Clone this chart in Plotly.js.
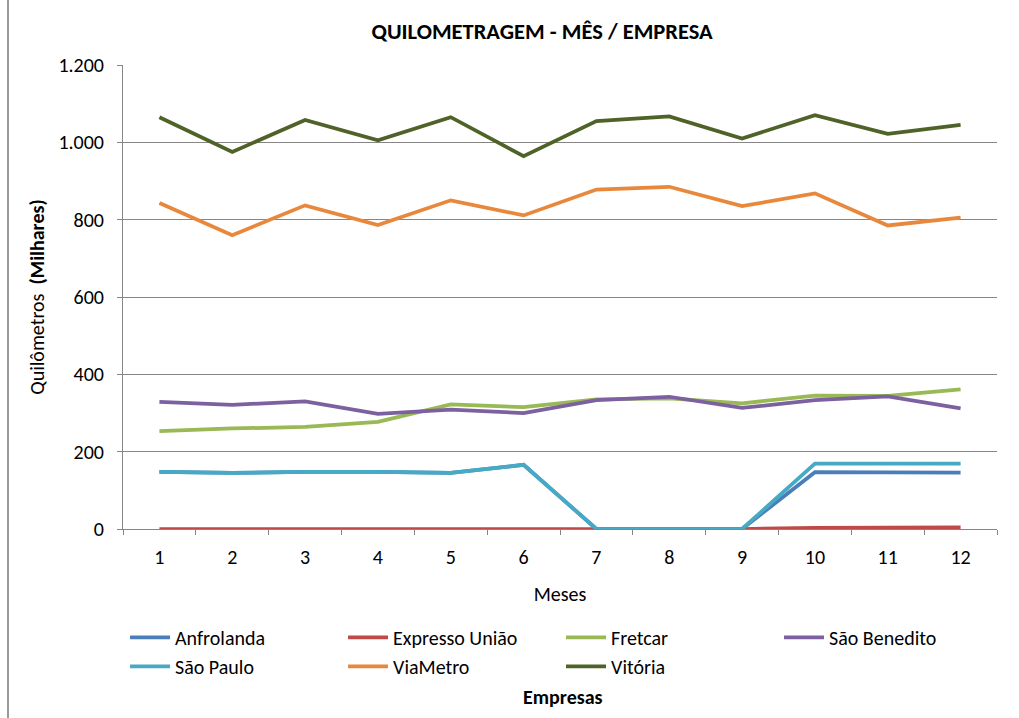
<!DOCTYPE html>
<html>
<head>
<meta charset="utf-8">
<script src="https://cdn.plot.ly/plotly-3.0.1.min.js"></script>
<style>html,body{margin:0;padding:0;background:#fff;}#chart{width:1019px;height:718px;}</style>
</head>
<body>
<div id="chart"></div>
<script>
const months = ["1","2","3","4","5","6","7","8","9","10","11","12"];
const seriesNames = ["Anfrolanda","Expresso União","Fretcar","São Benedito","São Paulo","ViaMetro","Vitória"];
const anfrolanda    = [148,145,148,148,145,166,0,0,0,147,146,146];
const expressoUniao = [0,0,0,0,0,0,0,0,0,3,4,4];
const fretcar       = [253,260,264,277,322,315,335,338,325,345,344,361];
const saoBenedito   = [329,321,330,298,309,300,333,342,313,333,343,312];
const saoPaulo      = [148,145,148,148,145,166,0,0,0,169,169,169];
const viaMetro      = [843,760,837,786,850,811,878,885,835,868,785,805];
const vitoria       = [1065,975,1058,1005,1065,964,1055,1067,1010,1070,1022,1045];
const allValues = [anfrolanda, expressoUniao, fretcar, saoBenedito, saoPaulo, viaMetro, vitoria];
const colors = ["#4A7EBB","#BE4B48","#98B954","#7D60A0","#46AAC5","#E8883C","#4F6228"];

const FONT = "Carlito, Calibri, Lato, 'Open Sans', sans-serif";

const traces = seriesNames.map((n, i) => ({
  type: "scatter",
  mode: "lines",
  name: n,
  x: months,
  y: allValues[i],
  line: {color: colors[i], width: 3.75}
}));

const layout = {
  width: 1019,
  height: 718,
  margin: {l: 123, r: 22, t: 65, b: 189},
  paper_bgcolor: "#ffffff",
  plot_bgcolor: "#ffffff",
  separators: ",.",
  font: {family: FONT, size: 20, color: "#000"},
  title: {
    text: "<b>QUILOMETRAGEM - MÊS / EMPRESA</b>",
    font: {family: FONT, size: 22.5, color: "#000"},
    x: 0.532, xanchor: "center", y: 0.957, yanchor: "middle", xref: "container", yref: "container"
  },
  xaxis: {
    type: "category",
    range: [-0.5, 11.5],
    tickson: "boundaries",
    ticks: "outside",
    ticklen: 5,
    tickcolor: "#868686",
    ticklabelstandoff: 10,
    showgrid: false,
    showline: true,
    linecolor: "#868686",
    linewidth: 1,
    tickfont: {family: FONT, size: 20, color: "#000"},
    title: {text: "Meses", font: {family: FONT, size: 20, color: "#000"}, standoff: 18},
    fixedrange: true
  },
  yaxis: {
    range: [0, 1200],
    tick0: 0,
    dtick: 200,
    separatethousands: true,
    ticks: "outside",
    ticklen: 5,
    tickcolor: "#868686",
    ticklabelstandoff: 9,
    showgrid: true,
    gridcolor: "#868686",
    gridwidth: 1,
    zeroline: false,
    showline: true,
    linecolor: "#868686",
    linewidth: 1,
    tickfont: {family: FONT, size: 20, color: "#000"},
    title: {text: "Quilômetros  <b>(Milhares)</b>", font: {family: FONT, size: 20, color: "#000"}, standoff: 8},
    fixedrange: true
  },
  showlegend: true,
  legend: {
    orientation: "h",
    xref: "container", yref: "container",
    x: 0.1227, xanchor: "left",
    y: 0.1393, yanchor: "top",
    entrywidth: 163,
    entrywidthmode: "pixels",
    traceorder: "normal",
    tracegroupgap: 0,
    itemwidth: 40,
    font: {family: FONT, size: 20, color: "#000"},
    bgcolor: "rgba(0,0,0,0)"
  },
  annotations: [{
    text: "<b>Empresas</b>",
    xref: "paper", yref: "paper",
    x: (563 - 123) / 874, y: (529 - 697) / 464, xanchor: "center", yanchor: "middle",
    showarrow: false,
    font: {family: FONT, size: 20, color: "#000"}
  }],
  shapes: [{
    type: "line",
    xref: "paper", yref: "paper",
    x0: -115/874, x1: -115/874,
    y0: 1.2, y1: -0.5,
    line: {color: "#9a9a9a", width: 2}
  }]
};

Plotly.newPlot("chart", traces, layout, {displayModeBar: false, staticPlot: true});
</script>
</body>
</html>
